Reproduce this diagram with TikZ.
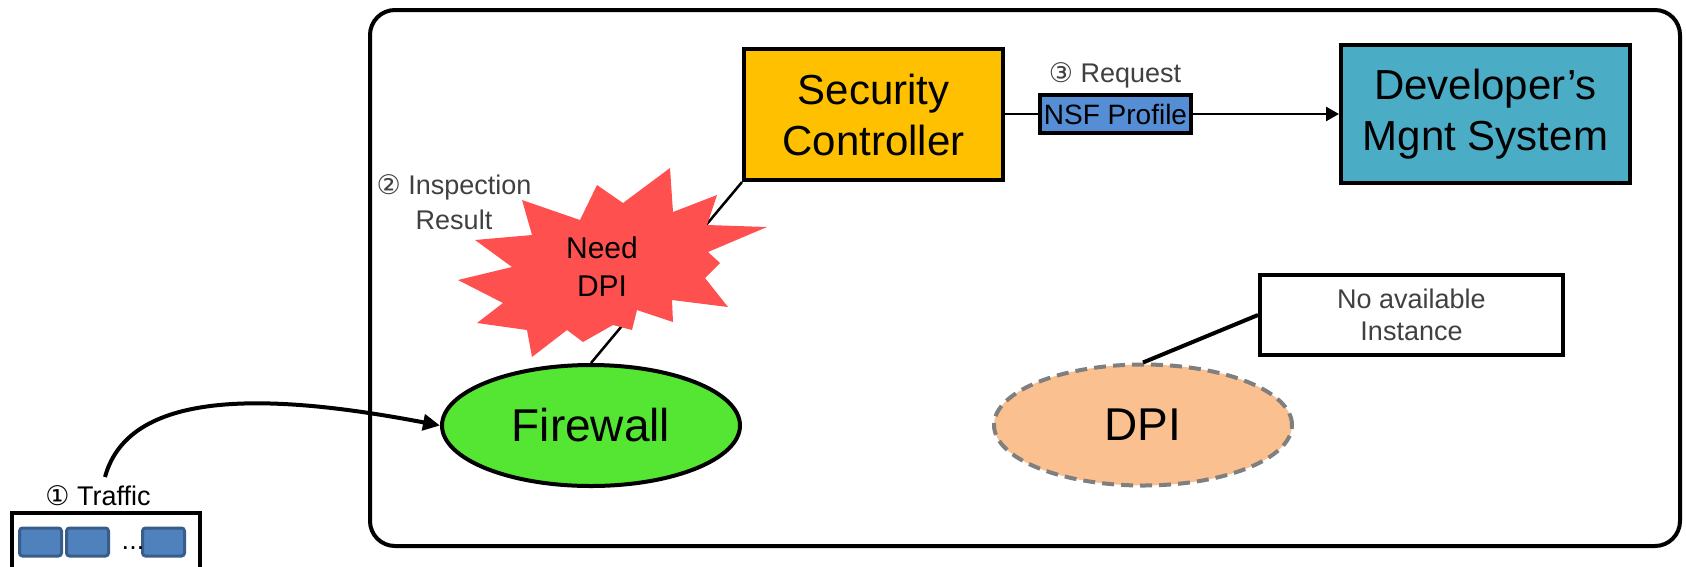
\documentclass[tikz,border=0pt]{standalone}
\usepackage{fontspec}
\setmainfont{Liberation Sans}
\newfontfamily\circfont{DejaVu Sans}
\usetikzlibrary{arrows.meta,shapes.geometric}

\definecolor{ctrlGold}{HTML}{FFC000}
\definecolor{mgntTeal}{HTML}{4BACC6}
\definecolor{profileBlue}{HTML}{558ED5}
\definecolor{fwGreen}{HTML}{55E633}
\definecolor{dpiPeach}{HTML}{FAC090}
\definecolor{dpiGray}{HTML}{7F7F7F}
\definecolor{burstRed}{HTML}{FF5050}
\definecolor{pktBlue}{HTML}{4F81BD}
\definecolor{pktEdge}{HTML}{385D8A}
\definecolor{noteGray}{HTML}{404040}

\begin{document}
\begin{tikzpicture}
[x=1pt,y=-1pt,
  boxDecorate/.style={draw,line width=4pt,inner sep=0pt,align=center,
    font=\fontsize{42}{51}\selectfont},
  ellDecorate/.style={ellipse,line width=4pt,inner sep=0pt,
    minimum width=298pt,minimum height=121pt,font=\fontsize{46}{55}\selectfont},
  noteDecorate/.style={text=noteGray,align=center,inner sep=0pt,
    font=\fontsize{27}{35}\selectfont},
  pktDecorate/.style={fill=pktBlue,draw=pktEdge,line width=3pt,rounded corners=3pt,
    minimum width=42pt,minimum height=28pt,inner sep=0pt},
  lineDecorate/.style={-,line width=2.5pt},
  arrowDecorate/.style={-{Triangle[length=17pt,width=16pt]},line width=4pt}]
\useasboundingbox (0,0) rectangle (1686,566);

%% domain frame
\node (domain) at (1025,278) [draw,line width=4pt,rounded corners=25pt,
  minimum width=1310pt,minimum height=536pt] {};

%% boxes and functions
\node (ctrl) at (873.5,114.5) [boxDecorate,fill=ctrlGold,
  minimum width=259pt,minimum height=131pt] {Security\\Controller};
\node (mgnt) at (1485.5,114) [boxDecorate,fill=mgntTeal,
  minimum width=289pt,minimum height=138pt] {Developer’s\\Mgnt System};
\node (profile) at (1115.5,114) [boxDecorate,fill=profileBlue,
  minimum width=151pt,minimum height=38pt,font=\fontsize{28}{34}\selectfont] {NSF Profile};
\node (firewall) at (591,425.5) [ellDecorate,draw,fill=fwGreen] {Firewall};
\node (dpi) at (1143,425) [ellDecorate,draw=dpiGray,fill=dpiPeach,
  dash pattern=on 12pt off 7pt] {DPI};
\node (noinst) at (1411.5,315) [boxDecorate,minimum width=303pt,minimum height=80pt,
  text=noteGray,font=\fontsize{27}{32}\selectfont] {No available\\Instance};

%% traffic queue
\node (queue) at (106,550) [draw,line width=4pt,minimum width=188pt,minimum height=74pt] {};
\foreach \pktname/\x in {p1/40.5, p2/87.5, p3/163.5}
{
  \node (\pktname) at (\x,542) [pktDecorate] {};
}
\node (dots) at (133,549) [anchor=base,inner sep=0pt,font=\fontsize{27}{32}\selectfont] {...};

%% labels
\node (trafficlbl) at (98,505) [anchor=base,inner sep=0pt,font=\fontsize{27}{32}\selectfont]
  {{\circfont ①} Traffic};
\node (inspectlbl) at (454,202) [noteDecorate] {{\circfont ②} Inspection\\Result};
\node (requestlbl) at (1115,82) [noteDecorate,anchor=base] {{\circfont ③} Request};
\coordinate (trafficstart) at (105,477);

%% edges or lines
\draw[lineDecorate] (ctrl.south west) -- (firewall.north);
\draw[lineDecorate] (ctrl.east |- profile.west) -- (profile.west);
\draw[lineDecorate,-{Triangle[length=13pt,width=14pt]}] (profile.east) -- (mgnt.west |- profile.east);
\draw[line width=4pt] (noinst.west) -- (dpi.north);
\draw[arrowDecorate] (trafficstart) .. controls (130,385) and (280,395) .. (firewall.west);

%% inspection result burst
\fill[burstRed] (670,168) -- (673,212) -- (717,195) -- (707,225) -- (767,227)
  -- (708,252) -- (720,263) -- (705,278) -- (728,307) -- (672,300) -- (673,322)
  -- (637,310) -- (632,330) -- (613,325) -- (583,342) -- (567,330) -- (532,357)
  -- (527,330) -- (477,323) -- (503,303) -- (458,280) -- (512,267) -- (475,240)
  -- (532,235) -- (522,200) -- (580,220) -- (597,185) -- (623,203) -- cycle;
\node (needdpi) at (602,266.5) [align=center,inner sep=0pt,
  font=\fontsize{30}{38.5}\selectfont] {Need\\DPI};
\end{tikzpicture}
\end{document}
